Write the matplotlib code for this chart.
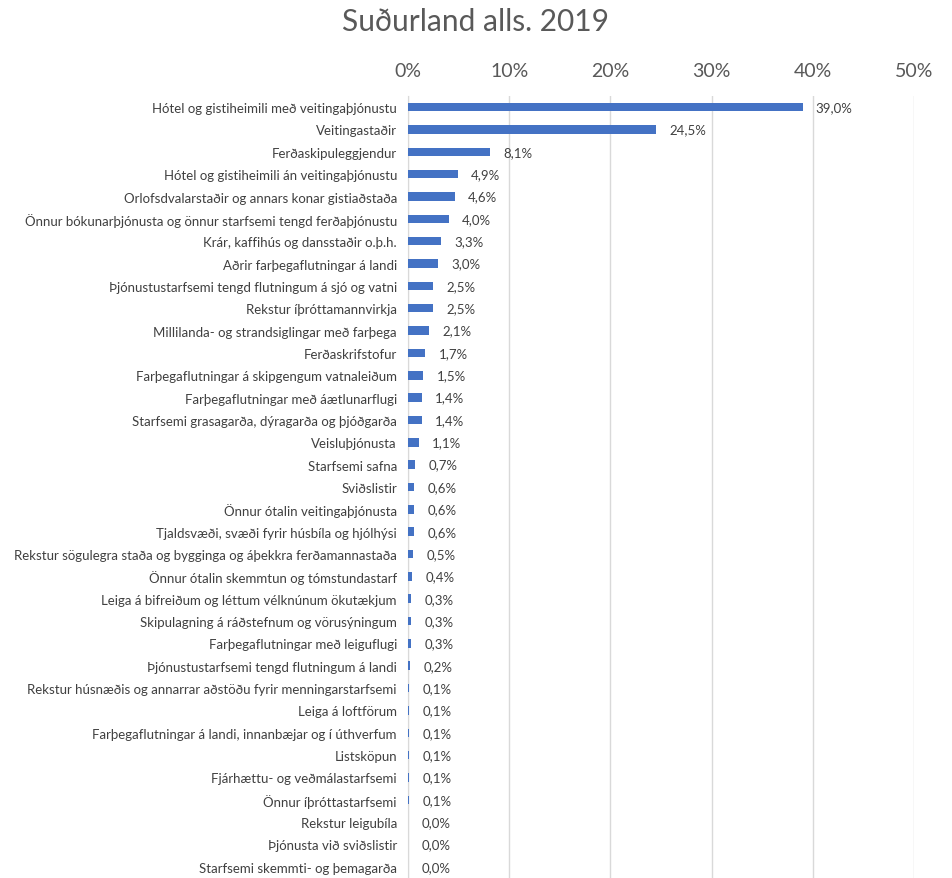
import matplotlib.pyplot as plt

plt.rcParams['font.family'] = ['Lato', 'DejaVu Sans']

categories = [
    "Hótel og gistiheimili með veitingaþjónustu",
    "Veitingastaðir",
    "Ferðaskipuleggjendur",
    "Hótel og gistiheimili án veitingaþjónustu",
    "Orlofsdvalarstaðir og annars konar gistiaðstaða",
    "Önnur bókunarþjónusta og önnur starfsemi tengd ferðaþjónustu",
    "Krár, kaffihús og dansstaðir o.þ.h.",
    "Aðrir farþegaflutningar á landi",
    "Þjónustustarfsemi tengd flutningum á sjó og vatni",
    "Rekstur íþróttamannvirkja",
    "Millilanda- og strandsiglingar með farþega",
    "Ferðaskrifstofur",
    "Farþegaflutningar á skipgengum vatnaleiðum",
    "Farþegaflutningar með áætlunarflugi",
    "Starfsemi grasagarða, dýragarða og þjóðgarða",
    "Veisluþjónusta",
    "Starfsemi safna",
    "Sviðslistir",
    "Önnur ótalin veitingaþjónusta",
    "Tjaldsvæði, svæði fyrir húsbíla og hjólhýsi",
    "Rekstur sögulegra staða og bygginga og áþekkra ferðamannastaða",
    "Önnur ótalin skemmtun og tómstundastarf",
    "Leiga á bifreiðum og léttum vélknúnum ökutækjum",
    "Skipulagning á ráðstefnum og vörusýningum",
    "Farþegaflutningar með leiguflugi",
    "Þjónustustarfsemi tengd flutningum á landi",
    "Rekstur húsnæðis og annarrar aðstöðu fyrir menningarstarfsemi",
    "Leiga á loftförum",
    "Farþegaflutningar á landi, innanbæjar og í úthverfum",
    "Listsköpun",
    "Fjárhættu- og veðmálastarfsemi",
    "Önnur íþróttastarfsemi",
    "Rekstur leigubíla",
    "Þjónusta við sviðslistir",
    "Starfsemi skemmti- og þemagarða",
]

shares = [39.0, 24.5, 8.1, 4.9, 4.6, 4.0, 3.3, 3.0, 2.5, 2.5, 2.1, 1.7,
          1.5, 1.4, 1.4, 1.1, 0.7, 0.6, 0.6, 0.6, 0.5, 0.4, 0.3, 0.3, 0.3,
          0.2, 0.1, 0.1, 0.1, 0.1, 0.1, 0.1, 0.0, 0.0, 0.0]

xticks = [0, 10, 20, 30, 40, 50]

fig = plt.figure(figsize=(9.52, 8.79), dpi=100)
ax = fig.add_axes([0.4286, 0.0, 0.5315, 0.8897])

y = range(len(categories))
ax.barh(y, shares, height=0.38, color="#4472C4", zorder=3)

for i, v in enumerate(shares):
    ax.text(v + 1.3, i, f"{v:.1f}".replace(".", ",") + "%", va="center",
            ha="left", fontsize=9.5, color="#404040")

ax.set_ylim(len(categories) - 0.5, -0.5)
ax.set_xlim(0, 50)
ax.set_yticks(list(y))
ax.set_yticklabels(categories, fontsize=9.5, color="#404040")
ax.set_xticks(xticks)
ax.set_xticklabels([f"{t}%" for t in xticks], fontsize=14, color="#595959")
ax.xaxis.tick_top()
ax.tick_params(axis="both", length=0)
ax.tick_params(axis="y", pad=8)
ax.tick_params(axis="x", pad=12)
ax.grid(axis="x", color="#D9D9D9", linewidth=1, zorder=0)
for s in ["top", "right", "bottom"]:
    ax.spines[s].set_visible(False)
ax.spines["left"].set_color("#D9D9D9")

fig.text(0.5, 0.975, "Suðurland alls. 2019", ha="center", va="center",
         fontsize=21.5, color="#595959")

fig.savefig("out.png", dpi=100)
